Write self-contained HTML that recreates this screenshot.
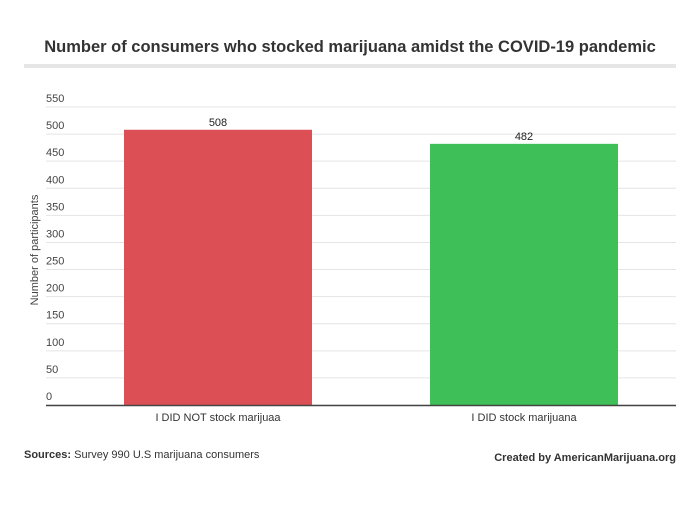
<!DOCTYPE html>
<html><head><meta charset="utf-8"><style>
body{margin:0;background:#fff;font-family:"Liberation Sans",sans-serif;}
</style></head><body>
<svg width="700" height="512" xmlns="http://www.w3.org/2000/svg" font-family="Liberation Sans, sans-serif">
<text x="350" y="52" text-anchor="middle" font-size="16.5" font-weight="bold" fill="#333">Number of consumers who stocked marijuana amidst the COVID-19 pandemic</text>
<rect x="24" y="64" width="652" height="4" fill="#e6e6e6"/>
<g id="grid"></g>
<g id="bars"></g>
<text transform="translate(38,250) rotate(-90)" text-anchor="middle" font-size="11" fill="#444">Number of participants</text>
<text x="24" y="458" font-size="11" fill="#333"><tspan font-weight="bold">Sources:</tspan> Survey 990 U.S marijuana consumers</text>
<text x="676" y="461" text-anchor="end" font-size="11" font-weight="bold" fill="#333">Created by AmericanMarijuana.org</text>
</svg>
<script>
const categories=["I DID NOT stock marijuaa","I DID stock marijuana"];
const values=[508,482];
const colors=["#dc5055","#3fbf57"];
const ticks=[0,50,100,150,200,250,300,350,400,450,500,550];
const NS="http://www.w3.org/2000/svg";
const x0=46,x1=676,yBase=405,yTop=107,maxV=550;
const y=v=>yBase-(v/maxV)*(yBase-yTop);
const g=document.getElementById('grid'),b=document.getElementById('bars');
function mk(tag,attrs,parent){const e=document.createElementNS(NS,tag);for(const k in attrs)e.setAttribute(k,attrs[k]);parent.appendChild(e);return e;}
ticks.forEach(t=>{
 const l=mk('line',{x1:x0,x2:x1,y1:y(t),y2:y(t),stroke:'#e4e4e4','stroke-width':1},g);
 
 
 const tx=mk('text',{x:x0,y:y(t)-5,'font-size':11,fill:'#444'},g);
 tx.textContent=t;
 
 
});
const band=(x1-x0)/categories.length,bw=188;
categories.forEach((c,i)=>{
 const cx=x0+band*(i+0.5)-0.5*0;
 const cxx=i==0?218:524;
 const r=mk('rect',{x:cxx-bw/2,y:y(values[i]),width:bw,height:yBase-y(values[i]),fill:colors[i]},b);
 
 
 const v=mk('text',{x:cxx,y:y(values[i])-4,'text-anchor':'middle','font-size':11,fill:'#222'},b);
 v.textContent=values[i];
 
 
 const cl=mk('text',{x:cxx,y:421,'text-anchor':'middle','font-size':11,fill:'#333'},b);
 cl.textContent=c;
 
 
});
const ax=mk('line',{x1:x0,x2:x1,y1:yBase+0.5,y2:yBase+0.5,stroke:'#444','stroke-width':1.5},b);


</script>
</body></html>
